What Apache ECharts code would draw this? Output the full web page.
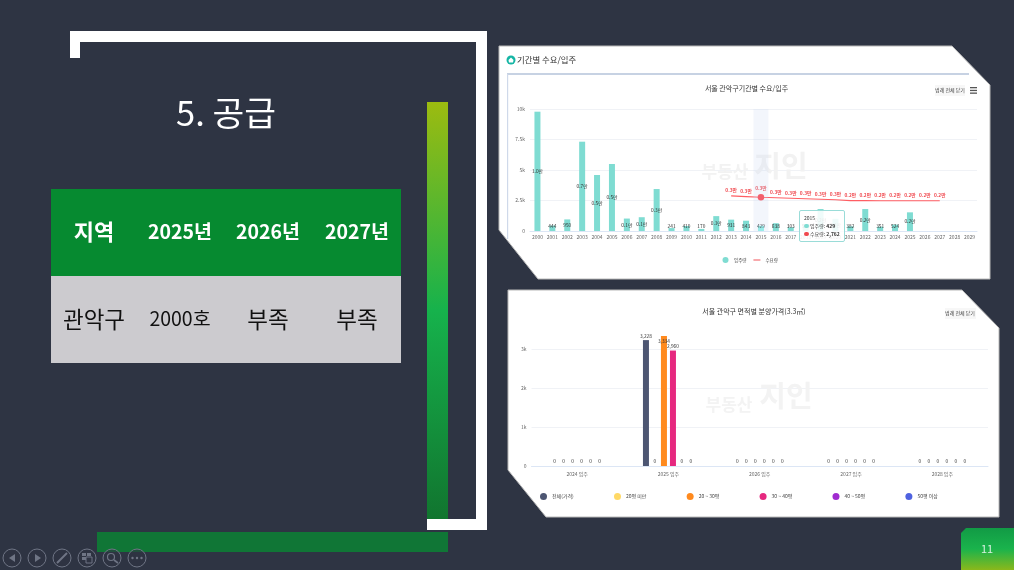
<!DOCTYPE html>
<html><head><meta charset="utf-8">
<style>html,body{margin:0;padding:0;background:#2e3443;overflow:hidden}#c{width:1014px;height:570px}</style>
<script src="https://cdn.jsdelivr.net/npm/echarts@6/dist/echarts.min.js"></script>
</head><body><div id="c"></div>
<script>
const FONT = '"Noto Sans CJK KR","Noto Sans",sans-serif';
// --- slide table
const tableHeader = ['지역','2025년','2026년','2027년'];
const tableRow = ['관악구','2000호','부족','부족'];
// --- demand / move-in chart
const years = ['2000','2001','2002','2003','2004','2005','2006','2007','2008','2009','2010','2011','2012','2013','2014','2015','2016','2017','2018','2019','2020','2021','2022','2023','2024','2025','2026','2027','2028','2029'];
const moveIn = [9780,444,950,7320,4590,5490,1020,1130,3440,241,410,170,1220,931,843,429,638,303,520,1800,1000,382,1800,351,524,1530,null,null,null,null];
const demand = [null,null,null,null,null,null,null,null,null,null,null,null,null,2880,2820,2762,2720,2680,2640,2600,2560,2490,2490,2485,2480,2480,2480,2480,null,null];
const tickLabels1 = {0:'0',2500:'2.5k',5000:'5k',7500:'7.5k',10000:'10k'};
// --- price-by-area chart
const periods = ['2024 입주','2025 입주','2026 입주','2027 입주','2028 입주'];
const priceAll = [0,3228,0,0,0];
const priceU20 = [0,0,0,0,0];
const price2030 = [0,3334,0,0,0];
const price3040 = [0,2960,0,0,0];
const price4050 = [0,0,0,0,0];
const priceO50 = [0,0,0,0,0];

const man = v => v == null ? '' : (v >= 1000 ? (v/10000).toFixed(1)+'만' : String(v));
const dataLabel = {show:true,fontSize:4.8,color:'#333',fontFamily:FONT};
const priceBar = (name,data,color,pos) => ({
  name,type:'bar',xAxisIndex:1,yAxisIndex:1,barWidth:6,barGap:'50%',
  data:data.map(value=>value&&pos?{value,label:{position:pos,distance:3}}:value),
  itemStyle:{color},
  label:{...dataLabel,position:'top',distance:2,formatter:p=>p.value.toLocaleString('en-US')}
});
const axisX = (gridIndex,data,margin)=>({
  type:'category',gridIndex,data,
  axisLine:{lineStyle:{color:'#dce6f5',width:1}},axisTick:{show:false},
  axisLabel:{fontSize:5,color:'#666',margin,interval:0,fontFamily:FONT}
});
const axisY = (gridIndex,max,interval,formatter)=>({
  type:'value',gridIndex,min:0,max,interval,
  axisLine:{show:false},axisTick:{show:false},
  splitLine:{lineStyle:{color:'#f0f2f6',width:1}},
  axisLabel:{fontSize:5,color:'#666',margin:5,formatter,fontFamily:FONT}
});

// decoration
const rect=(x,y,w,h,fill,z)=>({type:'rect',shape:{x,y,width:w,height:h},style:{fill},z:z||0,silent:true});
const txt=(x,y,text,fontSize,fill,extra)=>({type:'text',x,y,z:(extra&&extra.z)||1,silent:true,style:{text,fontSize,fill,fontFamily:FONT,align:'center',verticalAlign:'middle',...(extra||{})}});
const poly=(points,fill,stroke)=>({type:'polygon',shape:{points},style:{fill,stroke,lineWidth:1},z:0,silent:true});
const vgrad=(stops)=>({type:'linear',x:0,y:0,x2:0,y2:1,colorStops:stops});

const graphics=[];
// white frame
graphics.push(rect(70,31,417,11,'#fff'),rect(70,31,10,27,'#fff'),rect(476,31,11,499,'#fff'),rect(427,519,60,11,'#fff'));
// green bars
graphics.push(rect(427,102,21,417,vgrad([{offset:0,color:'#9cbb10'},{offset:.5,color:'#16b24c'},{offset:1,color:'#11752f'}])));
graphics.push(rect(97,532,351,20,'#107636'));
// title and table
graphics.push(txt(226,113,'5. 공급',34.5,'#fff'));
graphics.push(rect(51,189,350,87,'#068a30'),rect(51,276,350,87,'#cccbcf'));
const colX=[94,180,268,357];
tableHeader.forEach((t,i)=>graphics.push(txt(colX[i],232,t,/\d/.test(t)?19.5:22,'#fff',{fontWeight:'bold'})));
tableRow.forEach((t,i)=>graphics.push(txt(colX[i],319,t,/\d/.test(t)?19.5:22.5,'#111')));
// panels
graphics.push(poly([[499,46],[952,46],[990,85],[990,279],[538,279],[499,230]],'#fff','#b8b8b8'));
graphics.push(poly([[508,290],[962,290],[999,328],[999,517],[546,517],[508,470]],'#fff','#b8b8b8'));
// panel header
graphics.push({type:'circle',shape:{cx:511,cy:60,r:4.5},style:{fill:'#14b5a4'},z:1,silent:true});
graphics.push({type:'polygon',shape:{points:[[511,57.5],[513.5,60],[513,62.5],[509,62.5],[508.5,60]]},style:{fill:'#fff'},z:1,silent:true});
graphics.push(txt(517,60,'기간별 수요/입주',8.4,'#333',{align:'left'}));
graphics.push(rect(507,73.5,462,1,'#8fa5c8'),rect(507,74,1.2,165,'#cfd9ea'));
// watermarks
graphics.push(txt(725,172,'부동산',17,'#f2f2f2',{fontWeight:'bold'}),txt(781,166,'지인',29,'#f2f2f2',{fontWeight:'bold'}));
graphics.push(txt(729,405,'부동산',17,'#f3f3f3',{fontWeight:'bold'}),txt(786,396,'지인',29,'#f3f3f3',{fontWeight:'bold'}));
// legend-toggle buttons
graphics.push(rect(935,85,30,11,'#f7f7f7',0),txt(950,90.5,'범례 전체 닫기',5,'#444'));
graphics.push(rect(970,87,7,1.3,'#555',1),rect(970,89.8,7,1.3,'#555',1),rect(970,92.5,7,1.3,'#555',1));
graphics.push(rect(945,308,31,11,'#f7f7f7',0),txt(960,313.5,'범례 전체 닫기',5,'#444'));
// page number corner
graphics.push(poly([[966,528],[1014,528],[1014,570],[961,570],[961,533]],vgrad([{offset:0,color:'#119a45'},{offset:.5,color:'#1ab34c'},{offset:1,color:'#8db81a'}]),'transparent'));
graphics.push(txt(987,549,'11',11,'#d8f0e0'));
// presenter controls
const ctl='#6f7585';
[12,37,62,87,112,137].forEach(cx=>graphics.push({type:'circle',shape:{cx,cy:558,r:9},style:{fill:'rgba(46,52,67,.6)',stroke:ctl,lineWidth:1},z:2,silent:true}));
const shape=(o)=>Object.assign({z:3,silent:true},o);
graphics.push(shape({type:'polygon',shape:{points:[[15,554],[15,562],[9,558]]},style:{fill:ctl}}));
graphics.push(shape({type:'polygon',shape:{points:[[35,554],[35,562],[41,558]]},style:{fill:ctl}}));
graphics.push(shape({type:'line',shape:{x1:57,y1:563,x2:67,y2:553},style:{stroke:ctl,lineWidth:2}}));
graphics.push(rect(82,553,4,3,ctl,3),rect(87,553,4,3,ctl,3),rect(82,557,4,3,ctl,3),shape({type:'rect',shape:{x:86,y:557,width:6,height:6},style:{fill:'none',stroke:ctl,lineWidth:1}}));
graphics.push(shape({type:'circle',shape:{cx:111,cy:557,r:3.5},style:{fill:'none',stroke:ctl,lineWidth:1.2}}),shape({type:'line',shape:{x1:114,y1:560,x2:118,y2:563},style:{stroke:ctl,lineWidth:1.6}}));
[132.5,137,141.5].forEach(cx=>graphics.push(shape({type:'circle',shape:{cx,cy:558,r:1.2},style:{fill:ctl}})));

const y2=axisY(1,3500,1000,v=>v%1000?'':(v?(v/1000)+'k':'0'));
y2.splitLine.showMaxLine=false;
y2.axisLabel.showMaxLabel=false;

const option={
  animation:false,
  backgroundColor:'#2e3443',
  textStyle:{fontFamily:FONT},
  title:[
    {text:'서울 관악구기간별 수요/입주',left:746.5,top:88,padding:0,textAlign:'center',textVerticalAlign:'middle',textStyle:{fontSize:7,fontWeight:'normal',color:'#333',fontFamily:FONT}},
    {text:'서울 관악구 면적별 분양가격(3.3㎡)',left:754,top:311,padding:0,textAlign:'center',textVerticalAlign:'middle',textStyle:{fontSize:7,fontWeight:'normal',color:'#333',fontFamily:FONT}}
  ],
  grid:[
    {left:530,top:109,width:447,height:122,containLabel:false},
    {left:531.5,top:329.5,width:456.5,height:136.5,containLabel:false}
  ],
  xAxis:[axisX(0,years,4),axisX(1,periods,6)],
  yAxis:[axisY(0,10000,2500,v=>tickLabels1[v]),y2],
  legend:[
    {data:[{name:'입주량',icon:'circle'},{name:'수요량',icon:'path://M0,0h24v3h-24z'}],left:717.5,top:252,itemWidth:7,itemHeight:6,itemGap:7,
      textStyle:{fontSize:4.5,color:'#444',fontFamily:FONT},selectedMode:false},
    {data:['전체(가격)','20평 미만','20 ~ 30평','30 ~ 40평','40 ~ 50평','50평 이상'].map(name=>({name,icon:'circle'})),left:535,top:488,itemWidth:7,itemHeight:7,itemGap:40.2,
      textStyle:{fontSize:5,color:'#444',fontFamily:FONT},selectedMode:false}
  ],
  tooltip:{
    trigger:'axis',triggerOn:'none',alwaysShowContent:true,
    axisPointer:{type:'shadow',shadowStyle:{color:'rgba(200,215,240,.22)'}},
    position:[799,210],
    padding:[3,4],
    backgroundColor:'rgba(255,255,255,.88)',borderColor:'#9adcd8',borderWidth:1,
    extraCssText:'box-shadow:none;border-radius:2px;line-height:8px;',
    textStyle:{fontSize:5,color:'#333',fontFamily:FONT},
    formatter:()=>{
      const i=years.indexOf('2015');
      const dot=c=>`<span style="display:inline-block;width:4.5px;height:4.5px;border-radius:50%;background:${c};margin-right:1.5px"></span>`;
      return `2015<br>${dot('#7fdcd2')}입주량: <b>${moveIn[i]}</b><br>${dot('#f0484e')}수요량: <b>${demand[i].toLocaleString('en-US')}</b>`;
    }
  },
  series:[
    {name:'입주량',type:'bar',xAxisIndex:0,yAxisIndex:0,barWidth:6,itemStyle:{color:'#7fdcd2'},
      data:moveIn.map(value=>value!=null&&value<900?{value,label:{position:'insideBottom',distance:2}}:value),
      label:{...dataLabel,position:'inside',formatter:p=>man(p.value)}},
    {name:'수요량',type:'line',xAxisIndex:0,yAxisIndex:0,smooth:false,showSymbol:true,showAllSymbol:true,
      symbol:'circle',
      symbolSize:(v,p)=>years[p.dataIndex]==='2015'?6.5:0.01,
      data:demand,
      lineStyle:{color:'#f0565a',width:1.1},itemStyle:{color:'#ee3a42'},
      emphasis:{scale:false},
      label:{show:true,position:'top',distance:3,fontSize:4.8,fontWeight:'bold',color:'#f0484e',fontFamily:FONT,formatter:p=>man(p.value)},
      labelLayout:{hideOverlap:false},
      z:5},
    priceBar('전체(가격)',priceAll,'#4d5672'),
    priceBar('20평 미만',priceU20,'#ffd966'),
    priceBar('20 ~ 30평',price2030,'#ff8a1e','insideTop'),
    priceBar('30 ~ 40평',price3040,'#e6287f'),
    priceBar('40 ~ 50평',price4050,'#a02bd0'),
    priceBar('50평 이상',priceO50,'#4f62e0')
  ],
  graphic:{elements:graphics}
};
const chart=echarts.init(document.getElementById('c'),null,{renderer:'canvas'});
chart.setOption(option);
chart.dispatchAction({type:'showTip',seriesIndex:0,dataIndex:years.indexOf('2015')});
</script></body></html>
